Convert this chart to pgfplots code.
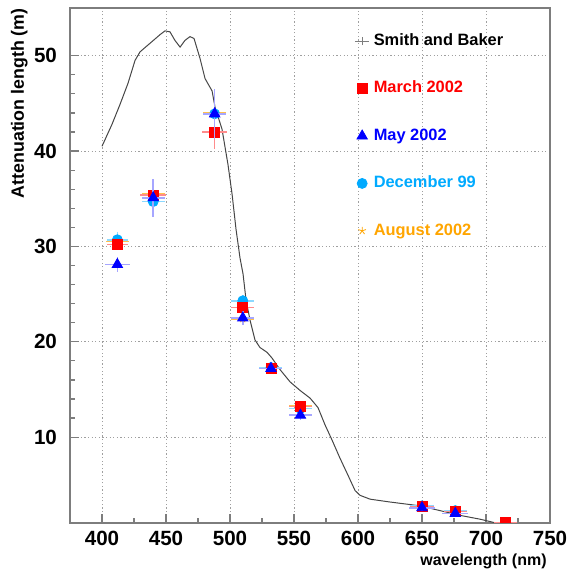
\documentclass[border=0pt]{standalone}
\usepackage{pgfplots}
\pgfplotsset{compat=1.18}
\usepackage{fontspec}
\setmainfont{Liberation Sans}
\definecolor{decblue}{RGB}{0,170,255}
\definecolor{augorange}{RGB}{255,165,0}
\definecolor{framegray}{RGB}{125,125,125}
\definecolor{curvegray}{RGB}{70,70,70}

\begin{document}
\begin{tikzpicture}
\begin{axis}[
  scale only axis, width=240pt, height=257.5pt,
  xmin=375, xmax=750, ymin=1, ymax=55,
  xtick={400,450,...,750}, ytick={10,20,30,40,50},
  minor x tick num=1, minor y tick num=4,
  tick align=inside, xtick pos=left, ytick pos=left,
  major tick length=4.5pt, minor tick length=2.5pt,
  axis line style={framegray, line width=0.8pt},
  tick style={framegray, line width=0.6pt},
  xmajorgrids=true, ymajorgrids=true,
  major grid style={draw=gray!75, line width=0.5pt, dash pattern=on 0.6pt off 1.2pt},
  /pgf/number format/assume math mode=true,
  ticklabel style={font=\fontsize{10.3}{12}\selectfont\bfseries},
  xticklabel style={yshift=-0.6pt},
  yticklabel style={xshift=-3pt},
  clip marker paths=true,
  legend style={at={(rel axis cs:0.592,0.959)}, anchor=north west, draw=none, fill=none,
    inner sep=0pt, row sep=12pt, font=\fontsize{8.2}{10}\selectfont\bfseries,
    nodes={inner sep=2pt, text height=6pt, text depth=1.7pt}},
  legend cell align=left,
  legend image code/.code={\draw[mark repeat=2,mark phase=2,#1] plot coordinates {(0pt,0pt)(6pt,0pt)(12pt,0pt)};},
]
\coordinate (SW) at (rel axis cs:0,0);
\coordinate (NE) at (rel axis cs:1,1);
\coordinate (NW) at (rel axis cs:0,1);
\coordinate (SE) at (rel axis cs:1,0);

% Smith and Baker
\addplot[curvegray, line width=0.5pt, forget plot] coordinates {
(400,40.5)(407.8,42.8)(414.1,44.9)(420.3,47.1)(425.8,49.5)(429.7,50.4)
(437.5,51.3)(445.3,52.2)(449.2,52.6)(453.1,52.5)(457,51.6)(461,50.9)
(464.8,51.6)(468.75,52.0)(471.9,51.8)(476.6,49.7)(480.5,47.6)(486,46.3)
(488.3,44.6)(493.75,42.3)(498.4,38.6)(501.6,35.5)(504.7,31.8)(507.8,28.8)
(510.2,27.1)(512.5,24.4)(515.6,22.3)(519.5,20.2)(523.4,19.4)(528.9,18.9)
(532.8,18.3)(539,17.1)(546.9,15.8)(554.7,14.9)(562.5,14.1)(568.75,13.1)
(574.2,11.3)(579.7,9.7)(585.9,7.8)(592.2,6.0)(597.7,4.4)(601.6,3.9)
(609.4,3.5)(625,3.2)(648.4,2.8)(664,2.3)(679.7,1.8)(695.3,1.4)(711,0.9)
};

% August 2002
\addplot[only marks, mark=star, augorange, mark size=2pt, forget plot,
  error bars/.cd, x dir=both, x explicit, y dir=both, y explicit,
  error bar style={augorange!70, line width=0.8pt}, error mark=none]
coordinates {
(412,30.5) +- (9,0.4)
(440,35.5) +- (9,0.6)
(488,44.0) +- (9,0.8)
(510,22.4) +- (9,0.4)
(532,17.3) +- (9,0.3)
(555,13.3) +- (9,0.3)
(650,2.8) +- (9,0.2)
(676,2.2) +- (9,0.2)
};

% December 99
\addplot[only marks, mark=*, decblue, mark size=2.5pt, forget plot,
  error bars/.cd, x dir=both, x explicit, y dir=both, y explicit,
  error bar style={decblue!45, line width=0.8pt}, error mark=none]
coordinates {
(412,30.7) +- (8,0.8)
(440,34.7) +- (9,1.5)
(488,43.9) +- (9,1.0)
(510,24.3) +- (9,0.6)
(532,17.3) +- (9,0.4)
(555,13.0) +- (9,0.4)
(650,2.8) +- (9,0.2)
(676,2.3) +- (9,0.2)
};

% March 2002
\addplot[only marks, mark=square*, red, mark size=2.5pt, forget plot,
  error bars/.cd, x dir=both, x explicit, y dir=both, y explicit,
  error bar style={red!45, line width=0.8pt}, error mark=none]
coordinates {
(412,30.2) +- (8,0.5)
(440,35.4) +- (10,0.6)
(488,42.0) +- (10,1.8)
(510,23.6) +- (9,0.5)
(532,17.2) +- (9,0.3)
(555,13.2) +- (9,0.4)
(650,2.7) +- (9,0.2)
(676,2.2) +- (9,0.2)
(715,1.05) +- (9,0.2)
};

% May 2002
\addplot[only marks, mark=triangle*, blue, mark size=3pt, forget plot,
  error bars/.cd, x dir=both, x explicit, y dir=both, y explicit,
  error bar style={blue!35, line width=0.8pt}, error mark=none]
coordinates {
(412,28.1) +- (10,0.8)
(440,35.1) +- (9,2.0)
(488,43.9) +- (9,2.6)
(510,22.5) +- (9,0.7)
(532,17.2) +- (9,0.4)
(555,12.3) +- (9,0.5)
(650,2.6) +- (10,0.3)
(676,2.0) +- (10,0.3)
};

\addlegendimage{legend image code/.code={\draw[curvegray!70, line width=0.6pt] (2.5pt,0pt)--(9.5pt,0pt) (6pt,-2pt)--(6pt,2pt);}}
\addlegendentry{Smith and Baker}
\addlegendimage{only marks, mark=square*, red, mark size=2.5pt}
\addlegendentry{\textcolor{red}{March 2002}}
\addlegendimage{only marks, mark=triangle*, blue, mark size=3pt}
\addlegendentry{\textcolor{blue}{May 2002}}
\addlegendimage{only marks, mark=*, decblue, mark size=2.5pt}
\addlegendentry{\textcolor{decblue}{December 99}}
\addlegendimage{only marks, mark=star, augorange, mark size=2pt}
\addlegendentry{\textcolor{augorange}{August 2002}}
\end{axis}
\node[rotate=90, anchor=south east, inner sep=0pt, font=\fontsize{8.9}{10}\selectfont\bfseries] at ([xshift=-21pt]NW) {Attenuation length (m)};
\node[anchor=base east, inner sep=0pt, font=\fontsize{8}{10}\selectfont\bfseries] at ([xshift=-1.5pt, yshift=-21.5pt]SE) {wavelength (nm)};
\pgfresetboundingbox
\path ([shift={(-35pt,-25.5pt)}]SW) rectangle ([shift={(9pt,4pt)}]NE);
\end{tikzpicture}
\end{document}
